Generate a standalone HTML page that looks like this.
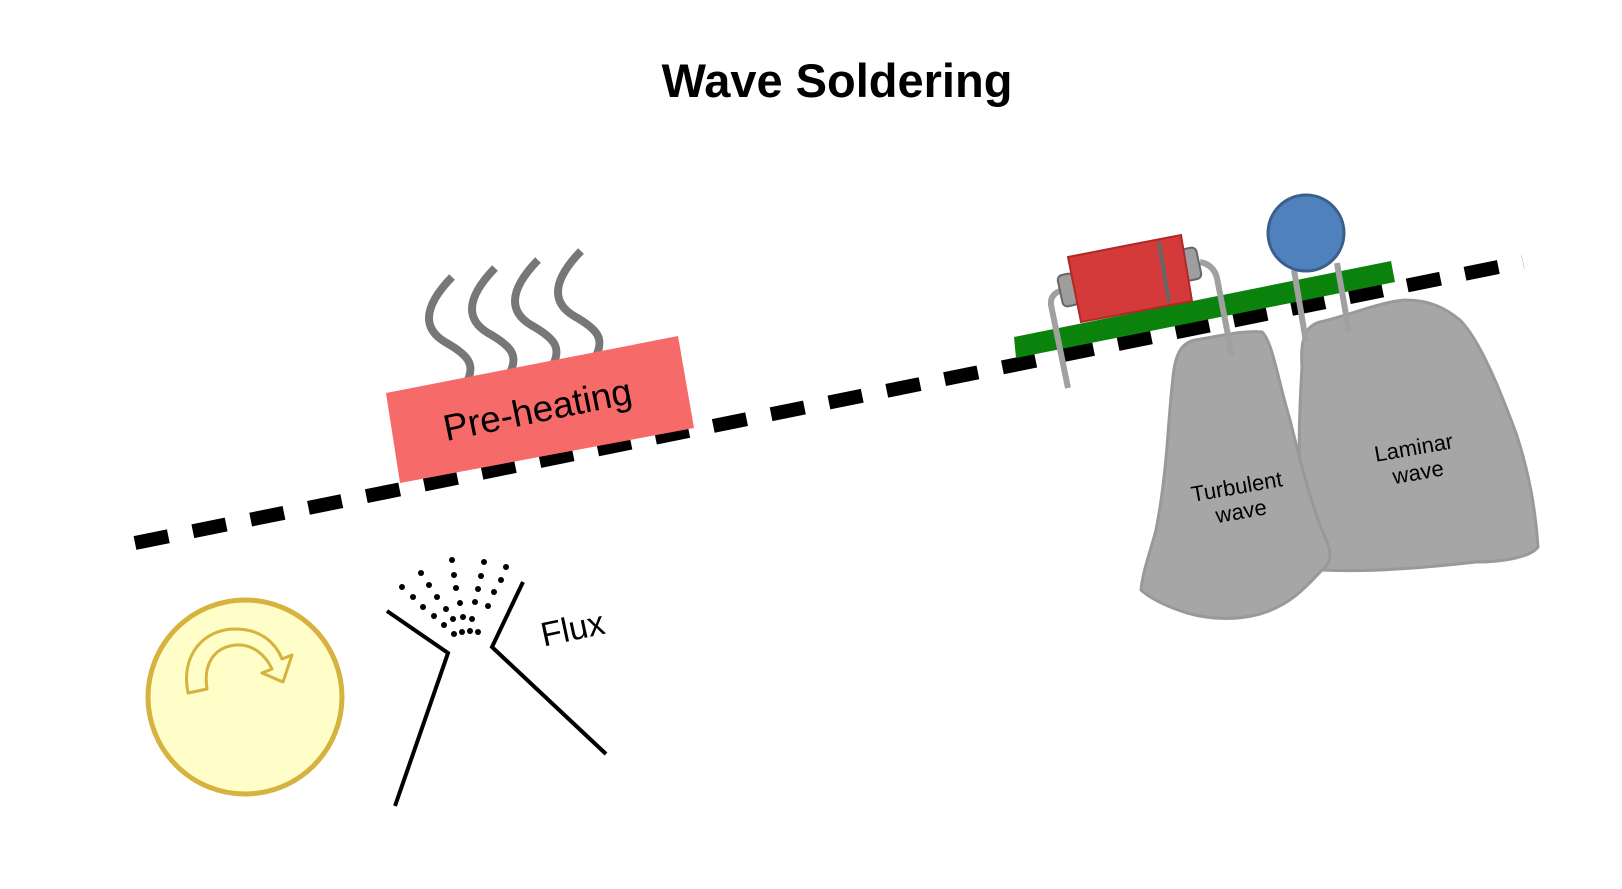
<!DOCTYPE html>
<html><head><meta charset="utf-8"><style>
html,body{margin:0;padding:0;background:#fff;}
svg{display:block;}
text{font-family:"Liberation Sans","DejaVu Sans",sans-serif;}
</style></head><body>
<svg width="1622" height="889" viewBox="0 0 1622 889" xmlns="http://www.w3.org/2000/svg">
<text x="837" y="97" font-size="47" font-weight="bold" text-anchor="middle" fill="#000">Wave Soldering</text>

<!-- steam -->
<g fill="none" stroke="#777" stroke-width="8">
<path d="M452,277 C420,310 425,330 445,342 C470,356 475,365 467,382"/>
<path d="M495,268 C463,301 468,321 488,333 C513,347 518,356 510,373"/>
<path d="M538,260 C506,293 511,313 531,325 C556,339 561,348 553,365"/>
<path d="M581,251 C549,284 554,304 574,316 C599,330 604,339 596,356"/>
</g>

<!-- dashed conveyor -->
<line x1="135" y1="543" x2="1523" y2="262" stroke="#000" stroke-width="14" stroke-dasharray="34 25"/>

<!-- preheating -->
<polygon points="386,393 678,336 694,428 400,483" fill="#F76A6A"/>
<text x="0" y="0" font-size="37" text-anchor="middle" fill="#000" transform="translate(540,422) rotate(-11.5)">Pre-heating</text>

<!-- circle -->
<circle cx="245" cy="697" r="97" fill="#FFFDC8" stroke="#D6B23E" stroke-width="5"/>
<path d="M188,693 C180,654 205,629 235,629 C262,629 276,644 282,659 L292,655 L283,682 L262,673 L272,669 C265,654 252,644 236,645 C214,647 203,664 207,689 Z" fill="none" stroke="#D6B23E" stroke-width="3" stroke-linejoin="round"/>

<!-- flux funnel -->
<g fill="none" stroke="#000" stroke-width="4">
<polyline points="387,611 448,653 395,806"/>
<polyline points="523,582 492,647 606,754"/>
</g>
<g fill="#000" transform="translate(0,-12)">
<circle cx="402" cy="599" r="3"/><circle cx="421" cy="585" r="3"/><circle cx="452" cy="572" r="3"/><circle cx="484" cy="574" r="3"/><circle cx="506" cy="579" r="3"/>
<circle cx="413" cy="609" r="3"/><circle cx="429" cy="597" r="3"/><circle cx="454" cy="587" r="3"/><circle cx="481" cy="588" r="3"/><circle cx="501" cy="592" r="3"/>
<circle cx="423" cy="619" r="3"/><circle cx="437" cy="609" r="3"/><circle cx="456" cy="600" r="3"/><circle cx="478" cy="601" r="3"/><circle cx="494" cy="604" r="3"/>
<circle cx="434" cy="628" r="3"/><circle cx="446" cy="621" r="3"/><circle cx="460" cy="615" r="3"/><circle cx="475" cy="614" r="3"/><circle cx="488" cy="618" r="3"/>
<circle cx="444" cy="637" r="3"/><circle cx="453" cy="631" r="3"/><circle cx="463" cy="629" r="3"/><circle cx="472" cy="631" r="3"/>
<circle cx="454" cy="646" r="3"/><circle cx="462" cy="644" r="3"/><circle cx="470" cy="643" r="3"/><circle cx="478" cy="644" r="3"/>
</g>
<text x="0" y="0" font-size="34" text-anchor="middle" fill="#000" transform="translate(575,640) rotate(-12)">Flux</text>

<!-- waves -->
<path fill="#A6A6A6" stroke="#999" stroke-width="3" d="M1302,367 C1300,340 1305,326 1320,322 C1350,315 1380,302 1405,300 C1430,300 1445,308 1460,320 C1480,340 1500,390 1516,433 C1530,475 1536,515 1538,547 C1530,558 1500,562 1476,562 C1440,566 1420,568 1397,569 C1370,571 1345,571 1321,570 C1312,540 1302,510 1300,480 C1298,440 1300,400 1302,367 Z"/>
<path fill="#A6A6A6" stroke="#999" stroke-width="3" d="M1173,377 C1175,357 1180,343 1195,340 C1220,336 1245,330 1262,332 C1272,340 1278,380 1290,420 C1300,460 1310,500 1322,530 C1330,548 1335,560 1322,570 C1305,588 1290,605 1260,614 C1230,622 1205,618 1187,613 C1165,606 1150,598 1141,590 C1143,570 1150,553 1156,530 C1162,500 1165,470 1167,447 C1169,420 1171,395 1173,377 Z"/>
<text x="0" y="0" font-size="22" text-anchor="middle" fill="#000" transform="translate(1238,494) rotate(-10)"><tspan x="0" y="0">Turbulent</tspan><tspan x="0" y="25">wave</tspan></text>
<text x="0" y="0" font-size="22" text-anchor="middle" fill="#000" transform="translate(1415,455) rotate(-10)"><tspan x="0" y="0">Laminar</tspan><tspan x="0" y="25">wave</tspan></text>

<!-- PCB -->
<polygon points="1014,337 1391,261 1395,282 1016,358" fill="#0B820B"/>

<!-- resistor -->
<g fill="none" stroke="#A0A0A0" stroke-width="6">
<path d="M1063,290 C1055,292 1050,297 1051,305 L1068,388"/>
<path d="M1200,262 C1210,264 1215,270 1217,278 L1232,356"/>
</g>
<rect x="-8" y="-16" width="16" height="32" rx="5" fill="#9E9E9E" stroke="#666" stroke-width="2" transform="translate(1068,290) rotate(-12)"/>
<rect x="-8" y="-16" width="16" height="32" rx="5" fill="#9E9E9E" stroke="#666" stroke-width="2" transform="translate(1191,264) rotate(-12)"/>
<polygon points="1068,257 1181,235 1192,301 1081,322" fill="#D53A3A" stroke="#B02828" stroke-width="2"/>
<line x1="1159" y1="242" x2="1169" y2="302" stroke="#666" stroke-width="4"/>

<!-- capacitor -->
<g stroke="#A0A0A0" stroke-width="6">
<line x1="1294" y1="270" x2="1306" y2="342"/>
<line x1="1337" y1="263" x2="1349" y2="332"/>
</g>
<circle cx="1306" cy="233" r="38" fill="#4F81BD" stroke="#3A5F8A" stroke-width="3"/>
</svg>
</body></html>
